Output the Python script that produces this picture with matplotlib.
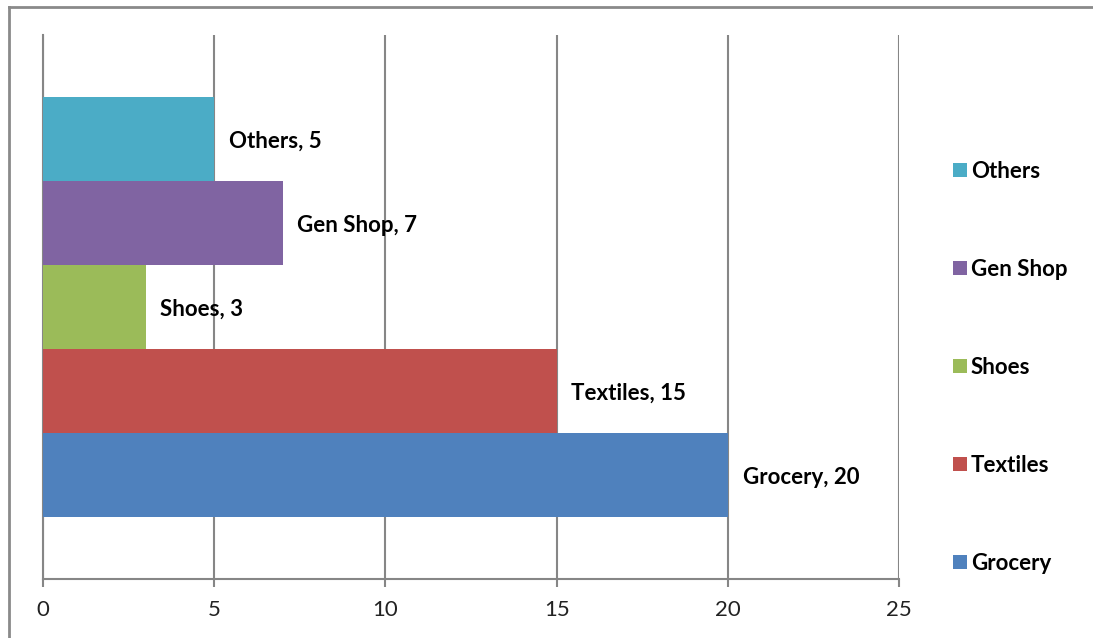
import matplotlib.pyplot as plt
from matplotlib.lines import Line2D

categories = ['Grocery', 'Textiles', 'Shoes', 'Gen Shop', 'Others']
values = [20, 15, 3, 7, 5]
colors = ['#4F81BD', '#C0504D', '#9BBB59', '#8064A2', '#4BACC6']
xticks = [0, 5, 10, 15, 20, 25]

plt.rcParams['font.family'] = ['Lato', 'DejaVu Sans']
grid_col = '#868686'

fig = plt.figure(figsize=(10.93, 6.38), dpi=100)
ax = fig.add_axes([43 / 1093, 59 / 638, 856 / 1093, 544 / 638])

h = 84 / 544
for i, (cat, val, col) in enumerate(zip(categories, values, colors)):
    y = (i - 2) * h
    ax.barh(y, val, height=h, color=col, label=cat, zorder=3)
    ax.text(val + 0.43, y - 0.004, f'{cat}, {val}', va='center', ha='left',
            fontsize=16, fontweight='bold', color='black', zorder=4)

ax.set_xlim(0, 25)
ax.set_ylim(-0.5, 0.5)
ax.set_xticks(xticks)
ax.set_yticks([])
ax.xaxis.grid(True, color=grid_col, linewidth=1.5, zorder=0)
for s in ['top', 'right']:
    ax.spines[s].set_visible(False)
ax.spines['left'].set_color(grid_col)
ax.spines['bottom'].set_color(grid_col)
ax.spines['left'].set_linewidth(1.5)
ax.spines['bottom'].set_linewidth(1.5)
ax.tick_params(axis='x', direction='out', length=6, width=1.5, color=grid_col,
               labelsize=16, labelcolor='#222222', pad=9)

handles, labels = ax.get_legend_handles_labels()
leg = ax.legend(handles[::-1], labels[::-1], loc='center left',
                bbox_to_anchor=(1.04, 0.389), frameon=False,
                prop={'size': 16, 'weight': 'bold'},
                handlelength=0.6, handleheight=0.6, handletextpad=0.2,
                labelspacing=3.46)

# chart frame
fig.add_artist(Line2D([9 / 1093, 9 / 1093], [0, 1 - 7 / 638], color='#8a8a8a',
                      linewidth=2, transform=fig.transFigure))
fig.add_artist(Line2D([9 / 1093, 1], [1 - 7 / 638, 1 - 7 / 638], color='#8a8a8a',
                      linewidth=2, transform=fig.transFigure))

fig.savefig('out.png', dpi=100)
